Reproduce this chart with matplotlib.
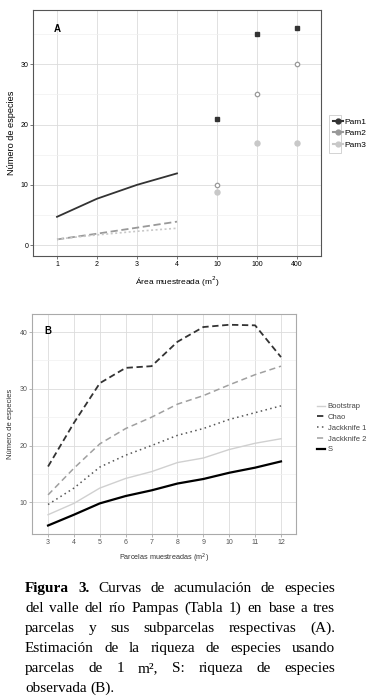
import numpy as np
import matplotlib
matplotlib.use("Agg")
import matplotlib.pyplot as plt
from matplotlib import font_manager
from matplotlib.lines import Line2D
from matplotlib.patches import Rectangle

# fuentes disponibles
nombres = {f.name for f in font_manager.fontManager.ttflist}
sans = [f for f in ['Liberation Sans Narrow', 'Liberation Sans', 'DejaVu Sans'] if f in nombres]
serif = [f for f in ['Liberation Serif', 'DejaVu Serif'] if f in nombres]
plt.rcParams['font.family'] = sans

# ---- datos panel A ----
area_labels = ['1', '2', '3', '4', '10', '100', '400']
sub_area = [1, 2, 3, 4]
pam1_sub = [4.7, 7.7, 10.0, 11.9]
pam2_sub = [0.95, 1.9, 2.9, 3.9]
pam3_sub = [1.0, 1.7, 2.3, 2.8]
parc_area = [5, 6, 7]
pam1_parc = [20.9, 35.0, 36.0]
pam2_parc = [9.9, 25.0, 30.0]
pam3_parc = [8.8, 17.0, 17.0]

# ---- datos panel B ----
parcelas = [3, 4, 5, 6, 7, 8, 9, 10, 11, 12]
chao = [16.3, 24.0, 31.0, 33.7, 34.0, 38.3, 40.9, 41.3, 41.2, 35.6]
jack2 = [11.3, 16.0, 20.3, 23.0, 25.0, 27.3, 28.8, 30.7, 32.5, 34.0]
jack1 = [9.6, 12.5, 16.2, 18.3, 20.0, 21.8, 23.0, 24.6, 25.8, 27.0]
boot = [7.8, 9.8, 12.5, 14.2, 15.4, 17.0, 17.8, 19.3, 20.4, 21.2]
s_obs = [5.9, 7.8, 9.8, 11.1, 12.1, 13.3, 14.1, 15.2, 16.1, 17.2]

W, H = 376, 697
fig = plt.figure(figsize=(W / 100, H / 100), dpi=100)


def caja(x0, y0, x1, y1):
    # pixeles -> fracciones de figura
    return [x0 / W, 1 - y1 / H, (x1 - x0) / W, (y1 - y0) / H]


def estilo(ax, borde):
    ax.set_facecolor('white')
    for s in ax.spines.values():
        s.set_color(borde)
        s.set_linewidth(0.8)
    ax.grid(True, which='major', color='#dcdcdc', linewidth=0.6)
    ax.grid(True, which='minor', axis='y', color='#f0f0f0', linewidth=0.5)
    ax.set_axisbelow(True)
    ax.tick_params(axis='both', which='major', labelsize=5, length=2, width=0.5,
                   color='#444444', pad=1.5)
    ax.tick_params(axis='both', which='minor', length=0)


# ---------------- Panel A ----------------
axA = fig.add_axes(caja(33, 10, 321, 256))
estilo(axA, '#555555')
axA.plot(sub_area, pam1_sub, color='#333333', lw=1.3)
axA.plot(sub_area, pam2_sub, color='#999999', lw=1.3, ls=(0, (4, 2)))
axA.plot(sub_area, pam3_sub, color='#c8c8c8', lw=1.2, ls=(0, (1.2, 1.5)))
axA.plot(parc_area, pam1_parc, ls='none', marker='s', ms=3.5, color='#333333')
axA.plot(parc_area, pam2_parc, ls='none', marker='o', ms=3.2, mfc='white',
         mec='#999999', mew=0.9)
axA.plot(parc_area, pam3_parc, ls='none', marker='o', ms=3.6, color='#c8c8c8')
axA.set_xlim(0.4, 7.6)
axA.set_ylim(-1.8, 39)
axA.set_xticks(range(1, 8))
axA.set_xticklabels(area_labels)
axA.set_yticks([0, 10, 20, 30])
axA.set_yticks([5, 15, 25, 35], minor=True)
axA.set_xlabel('Área muestreada (m$^2$)', fontsize=6, labelpad=5)
axA.set_ylabel('Número de especies', fontsize=6.6, labelpad=3)
axA.text(1, 35.8, 'A', fontsize=7, fontweight='bold', ha='center', va='center')

manejadores = [
    Line2D([], [], color='#333333', lw=1.5, marker='o', ms=3.5),
    Line2D([], [], color='#999999', lw=1.5, marker='o', ms=3.5),
    Line2D([], [], color='#c8c8c8', lw=1.5, marker='o', ms=3.5),
]
fig.legend(manejadores, ['Pam1', 'Pam2', 'Pam3'], loc='upper left',
           bbox_to_anchor=(327 / W, 1 - 112 / H), frameon=False, fontsize=6,
           handlelength=1.2, handletextpad=0.2, labelspacing=0.45,
           borderpad=0.2)
fig.patches.append(Rectangle((329 / W, 1 - 153 / H), 12 / W, 38 / H,
                             transform=fig.transFigure, fill=False,
                             ec='#cccccc', lw=0.6))

# ---------------- Panel B ----------------
axB = fig.add_axes(caja(32, 314, 296, 534))
estilo(axB, '#aaaaaa')
axB.plot(parcelas, boot, color='#d0d0d0', lw=1.0, label='Bootstrap')
axB.plot(parcelas, chao, color='#333333', lw=1.3, ls=(0, (3.5, 2)), label='Chao')
axB.plot(parcelas, jack1, color='#555555', lw=1.1, ls=(0, (1, 2.2)), label='Jackknife 1')
axB.plot(parcelas, jack2, color='#a0a0a0', lw=1.1, ls=(0, (4, 2.5)), label='Jackknife 2')
axB.plot(parcelas, s_obs, color='black', lw=1.6, label='S')
axB.set_xlim(2.38, 12.58)
axB.set_ylim(4.4, 43.2)
axB.set_xticks(parcelas)
axB.set_yticks([10, 20, 30, 40])
axB.set_yticks([15, 25, 35], minor=True)
axB.tick_params(labelcolor='#555555', color='#999999')
axB.set_xlabel('Parcelas muestreadas (m$^2$)', fontsize=5.2, color='#333333', labelpad=4)
axB.set_ylabel('Número de especies', fontsize=5.5, color='#333333', labelpad=4)
axB.text(3, 40.2, 'B', fontsize=7, fontweight='bold', ha='center', va='center')
fig.legend(*axB.get_legend_handles_labels(), loc='upper left',
           bbox_to_anchor=(310 / W, 1 - 396 / H), frameon=False, fontsize=5.5,
           handlelength=1.0, handletextpad=0.4, labelspacing=0.45,
           labelcolor='#444444')

# ---------------- Pie de figura (justificado) ----------------
lineas = [
    'Figura 3. Curvas de acumulación de especies',
    'del valle del río Pampas (Tabla 1) en base a tres',
    'parcelas y sus subparcelas respectivas (A).',
    'Estimación de la riqueza de especies usando',
    'parcelas de 1 m², S: riqueza de especies',
    'observada (B).',
]
bases = [592, 612, 632, 652, 672, 692]
x_izq, x_der = 25, 335
tam = 11.0

fig.canvas.draw()
rend = fig.canvas.get_renderer()
for n, (linea, yb) in enumerate(zip(lineas, bases)):
    palabras = linea.split(' ')
    textos = []
    for k, p in enumerate(palabras):
        peso = 'bold' if (n == 0 and k < 2) else 'normal'
        t = fig.text(0, 1 - yb / H, p, fontsize=tam, family=serif,
                     fontweight=peso, va='baseline', ha='left')
        textos.append(t)
    anchos = [t.get_window_extent(rend).width for t in textos]
    if n < len(lineas) - 1:
        hueco = (x_der - x_izq - sum(anchos)) / (len(palabras) - 1)
    else:
        hueco = tam * 100 / 72 * 0.25
    x = x_izq
    for t, a in zip(textos, anchos):
        t.set_x(x / W)
        x += a + hueco

fig.savefig('out.png', dpi=100)
